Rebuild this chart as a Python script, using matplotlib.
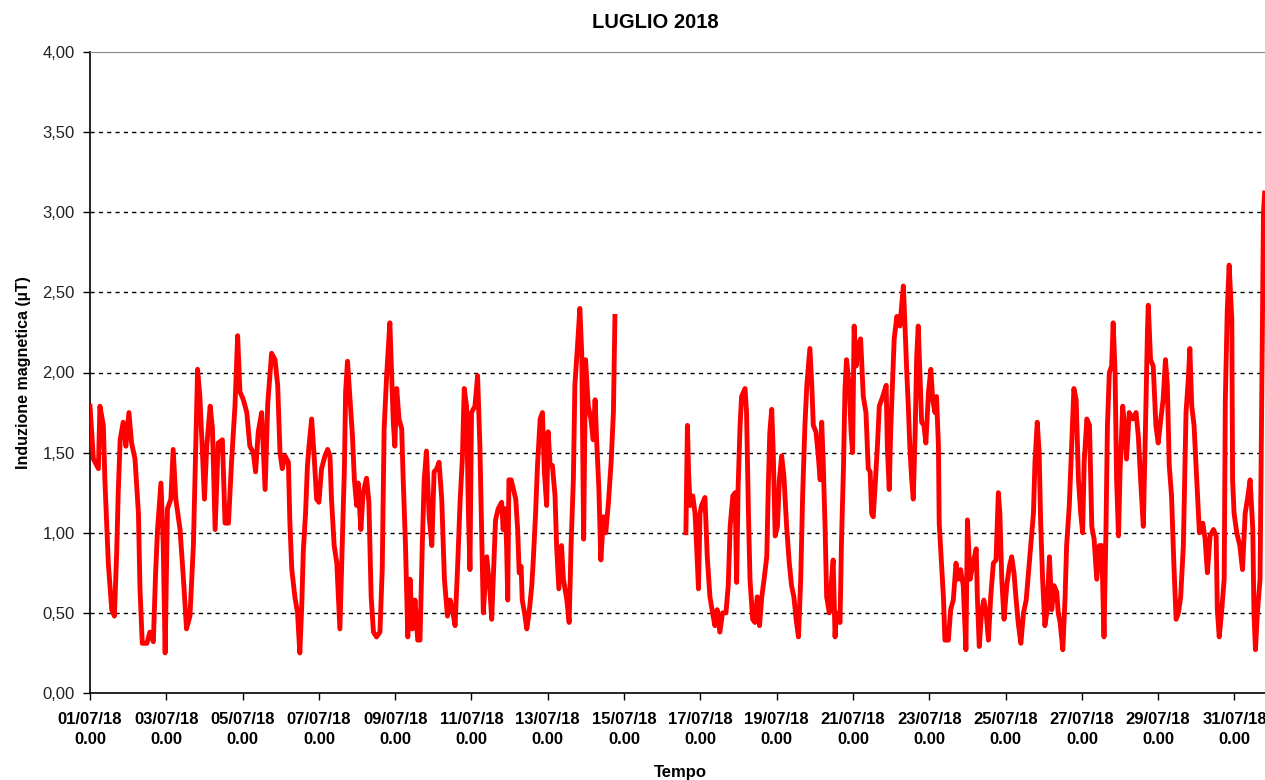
import numpy as np
import matplotlib.pyplot as plt

# giorni dal 01/07/18 0.00, induzione magnetica in microtesla
giorni = [
    0.00, 0.09, 0.22, 0.26, 0.35, 0.39, 0.48, 0.57, 0.64, 0.70, 0.74, 0.79, 0.87, 0.94,
    1.02, 1.09, 1.18, 1.27, 1.31, 1.37, 1.49, 1.57, 1.66, 1.72, 1.77, 1.86, 1.92, 1.97,
    2.03, 2.12, 2.18, 2.25, 2.36, 2.45, 2.53, 2.62, 2.71, 2.75, 2.82, 2.88, 2.94,
    3.00, 3.06, 3.15, 3.21, 3.28, 3.36, 3.47, 3.54, 3.63, 3.71, 3.80, 3.87, 3.93,
    4.02, 4.11, 4.19, 4.28, 4.34, 4.41, 4.50, 4.59, 4.66, 4.76, 4.85, 4.92, 4.98,
    5.04, 5.11, 5.20, 5.24, 5.29, 5.37, 5.44, 5.50, 5.55, 5.59, 5.65, 5.70, 5.74, 5.81, 5.88, 5.94,
    6.00, 6.07, 6.16, 6.23, 6.29, 6.33, 6.40, 6.47, 6.55, 6.61, 6.67, 6.70, 6.75, 6.81, 6.88, 6.93, 6.99,
    7.03, 7.10, 7.16, 7.25, 7.31, 7.37, 7.43, 7.51, 7.60, 7.66, 7.71, 7.78, 7.86, 7.91, 7.95, 7.99,
    8.04, 8.10, 8.17, 8.21, 8.27, 8.33, 8.39, 8.45, 8.52, 8.59, 8.65, 8.71, 8.76, 8.82, 8.89, 8.96,
    9.02, 9.09, 9.15, 9.22, 9.29, 9.37, 9.44, 9.50, 9.57, 9.64, 9.70, 9.76, 9.81, 9.87, 9.92, 9.96,
    10.00, 10.09, 10.16, 10.22, 10.27, 10.31, 10.40, 10.48, 10.53, 10.57, 10.63, 10.70, 10.79, 10.83,
    10.88, 10.92, 10.95, 10.98, 11.04, 11.10, 11.16, 11.21, 11.25, 11.30, 11.33, 11.39, 11.45, 11.51,
    11.58, 11.62, 11.68, 11.73, 11.80, 11.86, 11.91, 11.97, 12.01, 12.06, 12.12, 12.19, 12.23, 12.29,
    12.36, 12.41, 12.50, 12.56, 12.61, 12.67, 12.71, 12.78, 12.84, 12.89, 12.94, 12.99, 13.06, 13.13,
    13.19, 13.24, 13.28, 13.34, 13.39, 13.46, 13.52, 13.59, 13.66, 13.72, 13.76,
    14.70,
    15.62, 15.66, 15.69, 15.73, 15.80, 15.86, 15.90, 15.95, 15.99, 16.03, 16.12, 16.18, 16.25, 16.32,
    16.38, 16.44, 16.51, 16.58, 16.67, 16.73, 16.78, 16.85, 16.91, 16.95, 16.99, 17.04, 17.08, 17.17,
    17.21, 17.26, 17.30, 17.37, 17.43, 17.49, 17.55, 17.61, 17.67, 17.74, 17.78, 17.82, 17.87, 17.91,
    17.96, 18.02, 18.07, 18.13, 18.19, 18.26, 18.33, 18.39, 18.45, 18.51, 18.57, 18.63, 18.68, 18.74,
    18.79, 18.87, 18.92, 18.96, 19.03, 19.09, 19.14, 19.18, 19.22, 19.27, 19.31, 19.38, 19.44, 19.48,
    19.53, 19.57, 19.66, 19.70, 19.75, 19.79, 19.83, 19.90, 19.95, 19.99, 20.03, 20.08, 20.14, 20.20,
    20.27, 20.34, 20.40, 20.45, 20.49, 20.53, 20.58, 20.64, 20.69, 20.78, 20.87, 20.90, 20.95, 20.99,
    21.04, 21.08, 21.15, 21.23, 21.32, 21.36, 21.41, 21.45, 21.49, 21.54, 21.58, 21.63, 21.67, 21.71,
    21.76, 21.80, 21.86, 21.91, 21.98, 22.04, 22.09, 22.15, 22.19, 22.24, 22.26, 22.32, 22.37, 22.41,
    22.50, 22.56, 22.63, 22.70, 22.76, 22.82, 22.89, 22.96, 23.00, 23.07, 23.15, 23.23, 23.26, 23.31,
    23.37, 23.43, 23.49, 23.55, 23.61, 23.68, 23.75, 23.81, 23.85, 23.90, 23.96, 24.03, 24.10, 24.16,
    24.22, 24.27, 24.33, 24.40, 24.47, 24.54, 24.60, 24.66, 24.73, 24.77, 24.83, 24.88, 24.92, 24.97,
    25.03, 25.08, 25.15, 25.21, 25.27, 25.34, 25.38, 25.43, 25.50, 25.56, 25.60, 25.67, 25.73, 25.79,
    25.85, 25.91, 25.97, 26.02, 26.06, 26.13, 26.20, 26.26, 26.32, 26.39, 26.46, 26.52, 26.58, 26.63,
    26.67, 26.72, 26.78, 26.82, 26.87, 26.91, 26.96, 27.00, 27.07, 27.13, 27.17, 27.24, 27.33, 27.42,
    27.48, 27.54, 27.61, 27.66, 27.72, 27.74, 27.80, 27.87, 27.94, 28.00, 28.06, 28.13, 28.19, 28.24,
    28.29, 28.35, 28.41, 28.47, 28.53, 28.59, 28.66, 28.73, 28.79, 28.83, 28.88, 28.94, 29.01, 29.08,
    29.17, 29.23, 29.29, 29.36, 29.45, 29.52, 29.55, 29.60, 29.66, 29.73, 29.76, 29.81, 29.86, 29.93,
    29.95, 29.99, 30.06, 30.14, 30.21, 30.28, 30.34, 30.41, 30.48, 30.51, 30.55, 30.60, 30.67, 30.72,
    30.76, 30.79,
]
valori = [
    1.79, 1.46, 1.40, 1.79, 1.67, 1.33, 0.81, 0.52, 0.48, 0.88, 1.25, 1.58, 1.69, 1.54,
    1.75, 1.56, 1.46, 1.12, 0.65, 0.31, 0.31, 0.38, 0.32, 0.75, 1.02, 1.31, 0.92, 0.25,
    1.15, 1.21, 1.52, 1.21, 1.02, 0.71, 0.40, 0.48, 0.92, 1.33, 2.02, 1.85, 1.54,
    1.21, 1.54, 1.79, 1.65, 1.02, 1.56, 1.58, 1.06, 1.06, 1.44, 1.79, 2.23, 1.88,
    1.83, 1.75, 1.54, 1.50, 1.38, 1.63, 1.75, 1.27, 1.81, 2.12, 2.08, 1.92, 1.50,
    1.40, 1.48, 1.44, 1.06, 0.77, 0.60, 0.50, 0.25, 0.54, 0.88, 1.12, 1.42, 1.54, 1.71, 1.46, 1.21,
    1.19, 1.40, 1.48, 1.52, 1.48, 1.21, 0.92, 0.81, 0.40, 0.92, 1.42, 1.88, 2.07, 1.85, 1.60, 1.33, 1.17,
    1.31, 1.02, 1.25, 1.34, 1.19, 0.60, 0.38, 0.35, 0.38, 0.77, 1.65, 2.00, 2.31, 1.96, 1.69, 1.54,
    1.90, 1.71, 1.65, 1.33, 0.92, 0.35, 0.71, 0.40, 0.58, 0.33, 0.33, 0.92, 1.33, 1.51, 1.10, 0.92,
    1.38, 1.40, 1.44, 1.21, 0.71, 0.48, 0.58, 0.52, 0.42, 0.81, 1.19, 1.46, 1.90, 1.79, 1.12, 0.77,
    1.75, 1.79, 1.98, 1.54, 0.96, 0.50, 0.85, 0.65, 0.46, 0.71, 1.08, 1.15, 1.19, 1.02,
    1.15, 0.92, 0.58, 1.33, 1.33, 1.27, 1.21, 1.02, 0.75, 0.79, 0.58, 0.50, 0.40, 0.50,
    0.67, 0.83, 1.12, 1.42, 1.71, 1.75, 1.38, 1.17, 1.63, 1.42, 1.42, 1.23, 0.92, 0.65,
    0.92, 0.71, 0.58, 0.44, 0.92, 1.33, 1.92, 2.17, 2.40, 2.12, 0.96, 2.08, 1.79, 1.71,
    1.58, 1.83, 1.58, 1.27, 0.83, 1.10, 1.00, 1.19, 1.44, 1.75, 2.35,
    np.nan,
    1.00, 1.67, 1.38, 1.17, 1.23, 1.12, 0.92, 0.65, 1.12, 1.17, 1.22, 0.85, 0.60, 0.50,
    0.42, 0.52, 0.38, 0.50, 0.50, 0.67, 1.04, 1.23, 1.25, 0.69, 1.29, 1.67, 1.85, 1.90,
    1.75, 1.12, 0.71, 0.46, 0.44, 0.60, 0.42, 0.60, 0.71, 0.85, 1.29, 1.63, 1.77, 1.50,
    0.98, 1.04, 1.33, 1.48, 1.35, 1.04, 0.81, 0.67, 0.60, 0.46, 0.35, 0.71, 1.23, 1.67,
    1.92, 2.15, 1.92, 1.67, 1.63, 1.48, 1.33, 1.69, 1.44, 1.02, 0.60, 0.50, 0.71, 0.83,
    0.35, 0.50, 0.44, 0.96, 1.40, 1.90, 2.08, 1.92, 1.63, 1.50, 2.29, 2.04, 2.17, 2.21,
    1.85, 1.75, 1.40, 1.38, 1.12, 1.10, 1.29, 1.54, 1.79, 1.85, 1.92, 1.54, 1.27, 1.65,
    1.96, 2.21, 2.35, 2.29, 2.54, 2.31, 2.00, 1.79, 1.54, 1.33, 1.21, 1.63, 2.10, 2.29,
    1.96, 1.69, 1.67, 1.56, 1.88, 2.02, 1.83, 1.75, 1.85, 1.54, 1.06, 0.81, 0.60, 0.33,
    0.33, 0.52, 0.58, 0.81, 0.71, 0.77, 0.67, 0.27, 1.08, 0.71, 0.81, 0.90, 0.60, 0.29,
    0.50, 0.58, 0.50, 0.33, 0.60, 0.81, 0.83, 1.25, 1.12, 0.71, 0.46, 0.67, 0.79, 0.85,
    0.75, 0.60, 0.44, 0.31, 0.50, 0.58, 0.75, 0.92, 1.12, 1.44, 1.69, 1.50, 1.06, 0.71,
    0.42, 0.50, 0.85, 0.52, 0.67, 0.63, 0.50, 0.44, 0.27, 0.60, 0.92, 1.17, 1.54, 1.90,
    1.83, 1.33, 1.12, 1.00, 1.44, 1.71, 1.67, 1.04, 0.96, 0.71, 0.92, 0.92, 0.35, 1.00,
    1.67, 2.00, 2.04, 2.31, 2.00, 1.33, 0.98, 1.38, 1.79, 1.63, 1.46, 1.75, 1.71, 1.75,
    1.60, 1.33, 1.04, 1.58, 2.27, 2.42, 2.08, 2.04, 1.67, 1.56, 1.69, 1.83, 2.08, 1.92,
    1.42, 1.23, 0.81, 0.46, 0.50, 0.60, 0.92, 1.75, 1.96, 2.15, 1.79, 1.67, 1.33, 1.00,
    1.06, 0.96, 0.75, 0.98, 1.02, 0.98, 0.52, 0.35, 0.50, 0.71, 1.83, 2.38, 2.67, 2.33,
    1.33, 1.12, 1.00, 0.92, 0.77, 1.12, 1.21, 1.33, 1.02, 0.50, 0.27, 0.50, 0.71, 2.00,
    3.00, 3.12,
]

tick_giorni = list(range(0, 31, 2))
tick_etichette = ['%02d/07/18\n0.00' % (d + 1) for d in tick_giorni]
y_ticks = [0.0, 0.5, 1.0, 1.5, 2.0, 2.5, 3.0, 3.5, 4.0]
y_etichette = ['%.2f' % v for v in y_ticks]
y_etichette = [s.replace('.', ',') for s in y_etichette]

plt.rcParams['font.family'] = ['Liberation Sans', 'DejaVu Sans']

fig = plt.figure(figsize=(12.65, 7.8), dpi=100)
ax = fig.add_axes([90 / 1265, 1 - 693 / 780, 1 - 90 / 1265, (693 - 52) / 780])

for yv in y_ticks[1:-1]:
    ax.axhline(yv, color='black', lw=1.0, ls=(0, (3, 3)), zorder=1)

ax.plot(giorni, valori, color='#ff0000', lw=3.5, solid_joinstyle='round', zorder=3)

ax.set_xlim(0, 30.8)
ax.set_ylim(0, 4.0)
ax.set_xticks(tick_giorni)
ax.set_xticklabels(tick_etichette, fontsize=12, fontweight='bold', linespacing=1.4)
ax.set_yticks(y_ticks)
ax.set_yticklabels(y_etichette, fontsize=12, color='#222222')

ax.tick_params(axis='x', direction='out', length=5, width=1, pad=9)
ax.tick_params(axis='y', direction='out', length=5, width=1, pad=6)

ax.spines['right'].set_visible(False)
ax.spines['top'].set_color('#888888')
ax.spines['left'].set_linewidth(1.2)
ax.spines['bottom'].set_linewidth(1.2)

ax.set_ylabel('Induzione magnetica (µT)', fontsize=11.5, fontweight='bold', labelpad=8)
fig.text(680 / 1265, 1 - 772 / 780, 'Tempo', fontsize=12, fontweight='bold',
         ha='center', va='center')
fig.text(655 / 1265, 1 - 22 / 780, 'LUGLIO 2018', fontsize=14.5, fontweight='bold',
         ha='center', va='center')

fig.savefig('out.png', dpi=100)
